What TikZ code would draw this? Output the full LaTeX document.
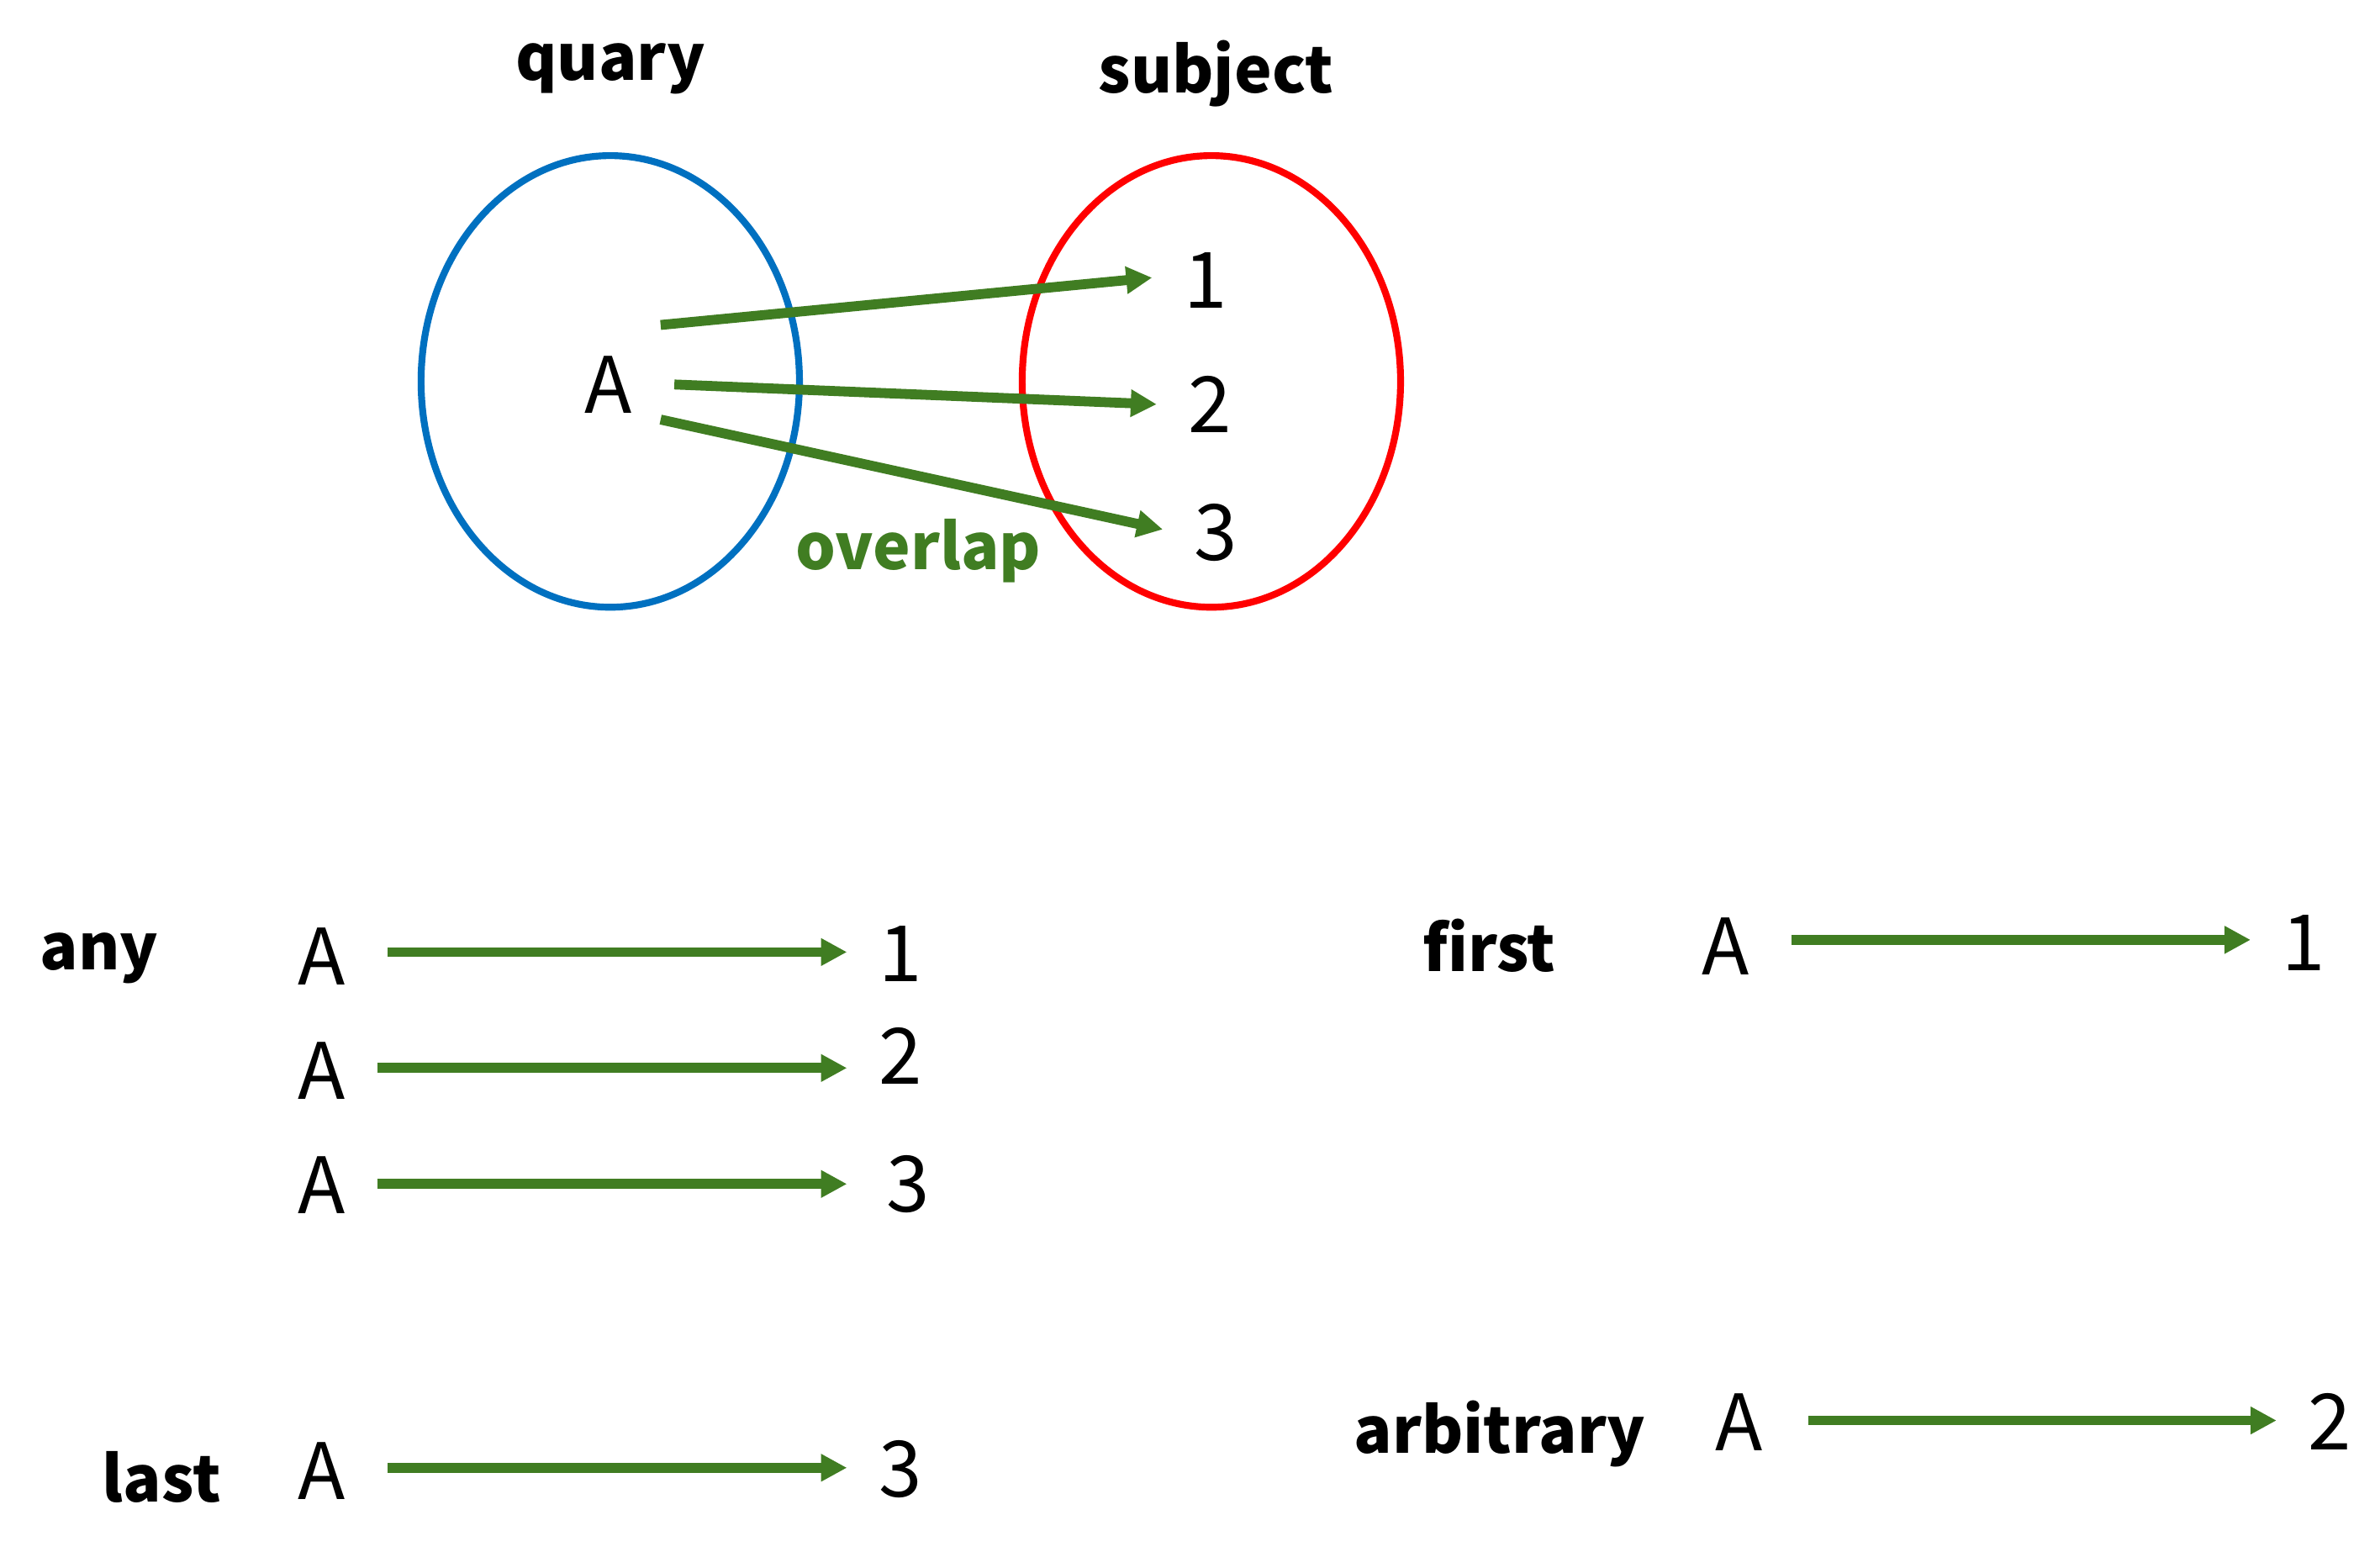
\documentclass[tikz,border=0pt]{standalone}
\usepackage{fontspec}
\setmainfont{Noto Sans CJK SC}
\usetikzlibrary{arrows.meta}
\definecolor{qblue}{RGB}{0,112,192}
\definecolor{sred}{RGB}{255,0,0}
\definecolor{agreen}{RGB}{64,125,34}

\begin{document}
\begin{tikzpicture}[
  elem/.style={inner sep=0.2cm, font=\fontsize{14.5}{14.5}\selectfont},
  lbl/.style={font=\bfseries\fontsize{11.8}{11.8}\selectfont},
  set/.style={draw, line width=0.045cm},
  arr/.style={draw=agreen, line width=0.065cm, -{Triangle[length=0.17cm,width=0.17cm]}},
  >=stealth
]
  \useasboundingbox (0,0) rectangle (15.6,-10.17);
  % sets
  \draw[set, qblue] (4.00,-2.50) ellipse [x radius=1.24, y radius=1.48];
  \draw[set, sred] (7.94,-2.50) ellipse [x radius=1.24, y radius=1.48];
  \node[lbl] (quary) at (4.00,-0.45) {quary};
  \node[lbl] (subject) at (7.97,-0.48) {subject};
  \node[elem] (qA) at (3.99,-2.52) {A};
  \node[elem] (s1) at (7.90,-1.84) {1};
  \node[elem] (s2) at (7.93,-2.65) {2};
  \node[elem] (s3) at (7.97,-3.49) {3};
  \draw[arr] ([xshift=0.34cm,yshift=0.39cm]qA.center) -- ([yshift=0.02cm]s1.west);
  \draw[arr] ([xshift=0.43cm]qA.center) -- (s2.west);
  \draw[arr] ([xshift=0.34cm,yshift=-0.23cm]qA.center) -- ([yshift=0.02cm]s3.west);
  \node[lbl, text=agreen] (overlap) at (6.02,-3.61) {overlap};

  % any
  \node[lbl] (any) at (0.65,-6.28) {any};
  \node[elem] (a1) at (2.11,-6.27) {A};
  \node[elem] (a2) at (2.11,-7.02) {A};
  \node[elem] (a3) at (2.11,-7.77) {A};
  \node[elem] (n1) at (5.90,-6.25) {1};
  \node[elem] (n2) at (5.90,-6.92) {2};
  \node[elem] (n3) at (5.95,-7.76) {3};
  \draw[arr] ([xshift=0.07cm,yshift=0.03cm]a1.east) -- ([yshift=0.03cm]a1.east -| n1.west);
  \draw[arr] ([yshift=0.02cm]a2.east) -- ([yshift=0.02cm]a2.east -| n2.west);
  \draw[arr] ([yshift=0.01cm]a3.east) -- ([xshift=-0.05cm,yshift=0.01cm]a3.east -| n3.west);

  % last
  \node[lbl] (last) at (1.06,-9.68) {last};
  \node[elem] (l1) at (2.11,-9.64) {A};
  \node[elem] (m1) at (5.90,-9.63) {3};
  \draw[arr] ([xshift=0.07cm,yshift=0.02cm]l1.east) -- ([yshift=0.02cm]l1.east -| m1.west);

  % first
  \node[lbl] (first) at (9.76,-6.20) {first};
  \node[elem] (f1) at (11.31,-6.20) {A};
  \node[elem] (g1) at (15.10,-6.18) {1};
  \draw[arr] ([xshift=0.07cm,yshift=0.04cm]f1.east) -- ([yshift=0.04cm]f1.east -| g1.west);

  % arbitrary
  \node[lbl] (arbitrary) at (9.83,-9.40) {arbitrary};
  \node[elem] (b1) at (11.40,-9.32) {A};
  \node[elem] (c1) at (15.27,-9.32) {2};
  \draw[arr] ([xshift=0.09cm,yshift=0.01cm]b1.east) -- ([yshift=0.01cm]b1.east -| c1.west);
\end{tikzpicture}
\end{document}
